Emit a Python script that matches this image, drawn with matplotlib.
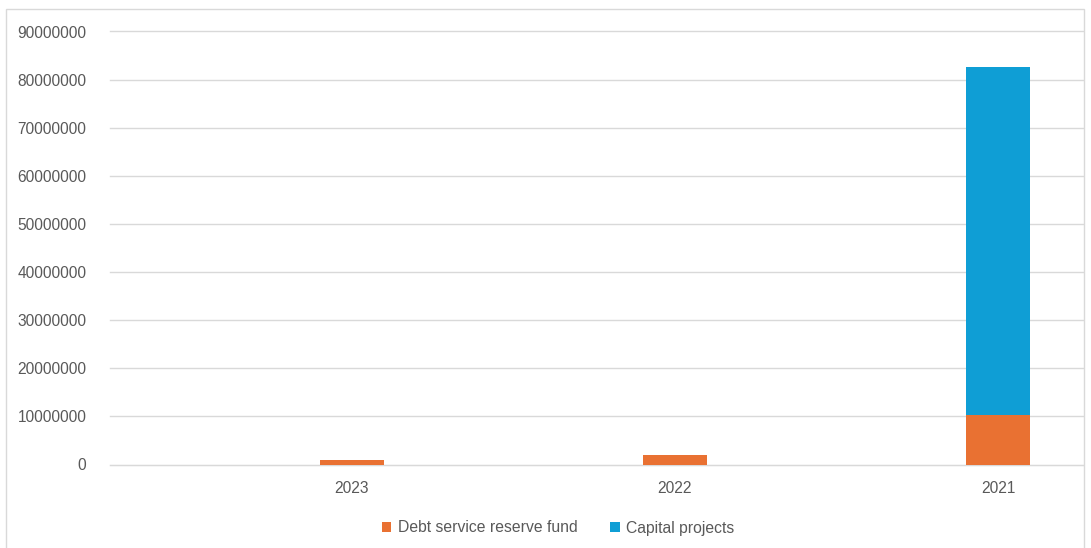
import numpy as np
import matplotlib.pyplot as plt
from matplotlib import use
from matplotlib.patches import Rectangle
use('Agg')

years = ["2023", "2022", "2021"]
debt_service = [900000, 1900000, 10200000]
capital_projects = [0, 0, 72400000]

if __name__ == "__main__":
    plt.rcParams['font.family'] = ['Liberation Sans', 'DejaVu Sans']
    txt = "#595959"
    grid = "#d9d9d9"

    fig = plt.figure(figsize=(10.91, 5.48), dpi=100)
    ax = fig.add_axes([110 / 1091, 1 - 464.5 / 548, (1083 - 110) / 1091, (464.5 - 31.5) / 548])

    x = np.arange(len(years))
    w = 0.2
    ax.bar(x, debt_service, width=w, color="#E97132", label="Debt service reserve fund", zorder=3)
    ax.bar(x, capital_projects, width=w, bottom=debt_service, color="#0F9ED5",
           label="Capital projects", zorder=3)

    ax.set_xlim(-0.749, 2.263)
    ax.set_ylim(0, 90000000)
    ax.set_yticks(np.arange(0, 90000001, 10000000))
    ax.set_yticklabels([str(v) for v in range(0, 90000001, 10000000)])
    ax.set_xticks(x)
    ax.set_xticklabels(years)
    ax.grid(axis="y", color=grid, linewidth=1, zorder=0)
    for gl in ax.get_ygridlines():
        gl.set_clip_on(False)
    for s in ["left", "right", "top"]:
        ax.spines[s].set_visible(False)
    ax.spines["bottom"].set_color(grid)
    ax.tick_params(axis="both", length=0, colors=txt, labelsize=11.2)
    ax.tick_params(axis="y", pad=17)
    ax.tick_params(axis="x", pad=12)

    fig.legend(loc="center", bbox_to_anchor=(558 / 1091, 1 - 528 / 548), ncol=2, frameon=False,
               fontsize=11.3, labelcolor=txt, handlelength=0.6, handleheight=0.6,
               handletextpad=0.4, columnspacing=2.1)

    fig.patches.append(Rectangle((6 / 1091, -0.01), 1078 / 1091, 1 - 9 / 548 + 0.01,
                                 transform=fig.transFigure, fill=False,
                                 edgecolor=grid, linewidth=1))

    fig.savefig("out.png", dpi=100)
